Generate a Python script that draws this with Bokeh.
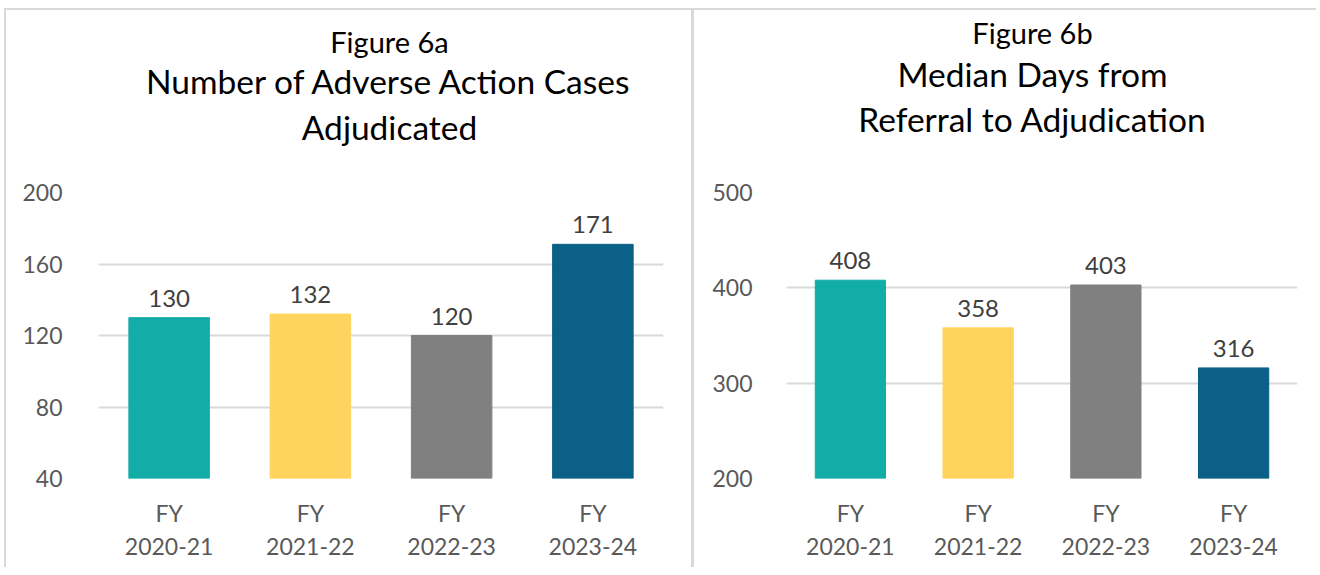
from bokeh.plotting import figure
from bokeh.models import Range1d, FixedTicker, Label, ColumnDataSource, LabelSet
from bokeh.core.properties import value
from bokeh.layouts import row, column
from bokeh.embed import file_html
from bokeh.resources import INLINE

years = ["FY\n2020-21", "FY\n2021-22", "FY\n2022-23", "FY\n2023-24"]
colors = ["#13ADA8", "#FFD45E", "#808080", "#0A6086"]
cases = [130, 132, 120, 171]
days = [408, 358, 403, 316]
cases_ticks = [40, 80, 120, 160, 200]
days_ticks = [200, 300, 400, 500]

FONT = "Lato"
GRID = "#D9D9D9"
BORDER = "2px solid #D9D9D9"


def title_fig(width, fig_label, lines, title_x, title_ys, styles):
    t = figure(width=width, height=164, x_range=Range1d(0, 1), y_range=Range1d(0, 1),
               output_backend="svg", toolbar_location=None,
               min_border_left=0, min_border_right=0, min_border_top=0,
               min_border_bottom=0, x_axis_type=None, y_axis_type=None)
    t.grid.visible = False
    t.outline_line_color = None
    texts = [fig_label] + lines
    sizes = ["29px", "33.5px", "33.5px"]
    for txt, y, s in zip(texts, title_ys, sizes):
        t.add_layout(Label(x=title_x, y=y, x_units="screen", y_units="screen", text=txt,
                           text_align="center", text_baseline="alphabetic",
                           text_font=FONT, text_font_size=s, text_color="#000000"))
    t.styles = styles
    return t


def chart_fig(values, ticks, ymin, ymax, width, left, right, bar_w, ystandoff, styles):
    p = figure(x_range=years, y_range=Range1d(ymin, ymax), width=width, height=395,
               output_backend="svg", toolbar_location=None,
               min_border_left=left, min_border_right=right,
               min_border_top=20, min_border_bottom=89)
    src = ColumnDataSource(dict(x=years, top=values, color=colors,
                                lab=[str(v) for v in values]))
    p.vbar(x="x", top="top", bottom=ymin, width=bar_w, color="color", source=src)
    p.add_layout(LabelSet(x="x", y="top", text="lab", source=src, text_align="center",
                          text_baseline="bottom", y_offset=11, text_font=value(FONT),
                          text_font_size="24px", text_color="#404040"))
    p.yaxis.ticker = FixedTicker(ticks=ticks)
    for ax in (p.xaxis, p.yaxis):
        ax.axis_line_color = None
        ax.major_tick_line_color = None
        ax.minor_tick_line_color = None
        ax.major_label_text_font = FONT
        ax.major_label_text_font_size = "23px"
        ax.major_label_text_color = "#595959"
    p.xaxis.major_label_standoff = 14
    p.xaxis.major_label_text_line_height = 1.18
    p.yaxis.major_label_standoff = ystandoff
    p.xgrid.grid_line_color = None
    p.ygrid.grid_line_color = GRID
    p.ygrid.grid_line_width = 2
    p.outline_line_color = None
    p.x_range.range_padding = 0
    p.styles = styles
    return p


t1 = title_fig(690, "Figure 6a", ["Number of Adverse Action Cases", "Adjudicated"],
               291, [133, 94, 48],
               {"border-top": BORDER, "border-left": BORDER,
                "border-right": "3px solid #D9D9D9"})
c1 = chart_fig(cases, cases_ticks, 40, 200, 690, 92, 33, 0.57, 30,
               {"border-left": BORDER, "border-right": "3px solid #D9D9D9"})
t2 = title_fig(622, "Figure 6b", ["Median Days from", "Referral to Adjudication"],
               246, [142, 101, 56], {"border-top": BORDER})
c2 = chart_fig(days, days_ticks, 200, 500, 622, 92, 19, 0.55, 28, {})

left = column(t1, c1, spacing=0)
right = column(t2, c2, spacing=0)
left.margin = (8, 0, 0, 4)
right.margin = (8, 0, 0, 0)

p = row(left, right, spacing=0)
open("out.html", "w").write(file_html(p, INLINE))
